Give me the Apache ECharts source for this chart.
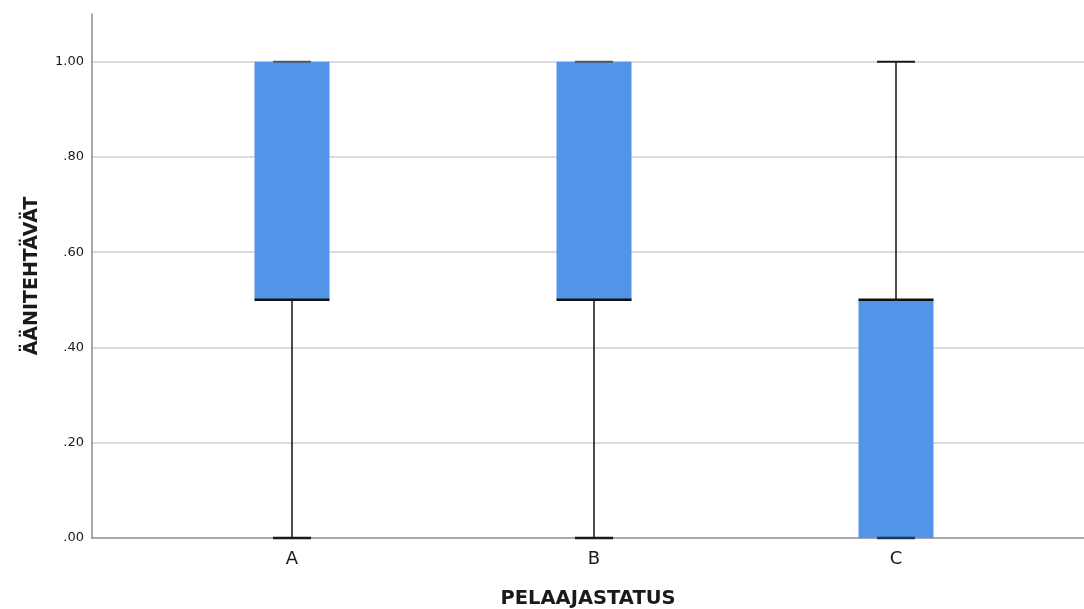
<!DOCTYPE html>
<html>
<head>
<meta charset="utf-8">
<script src="https://cdn.jsdelivr.net/npm/echarts@6/dist/echarts.min.js"></script>
<style>html,body{margin:0;padding:0;background:#fff}#c{width:1084px;height:609px}</style>
</head>
<body>
<div id="c"></div>
<script>
const categories = ['A', 'B', 'C'];
const mins    = [0, 0, 0];
const q1s     = [0.5, 0.5, 0];
const medians = [0.5, 0.5, 0.5];
const q3s     = [1, 1, 0.5];
const maxs    = [1, 1, 1];
const yTicks  = [0.2, 0.4, 0.6, 0.8, 1.0];
const yTitle = 'ÄÄNITEHTÄVÄT';
const xTitle = 'PELAAJASTATUS';

const boxData = categories.map((c, i) => [i, mins[i], q1s[i], medians[i], q3s[i], maxs[i]]);

const chart = echarts.init(document.getElementById('c'), null, {renderer: 'canvas'});
const FONT = 'DejaVu Sans';

chart.setOption({
  animation: false,
  grid: [
    {left: 92, right: 0, top: 14, bottom: 71, containLabel: false, outerBoundsMode: 'none'},
    {left: 141, width: 906, top: 14, bottom: 71, containLabel: false, outerBoundsMode: 'none'}
  ],
  xAxis: [
    {
      gridIndex: 0, type: 'value', min: 0, max: 1,
      axisLine: {show: true, lineStyle: {color: '#8c8c8c', width: 1.5}},
      axisTick: {show: false}, axisLabel: {show: false}, splitLine: {show: false},
      name: xTitle, nameLocation: 'middle', nameGap: 51,
      nameTextStyle: {fontFamily: FONT, fontWeight: 'bold', fontSize: 19.5, color: '#1a1a1a'}
    },
    {
      gridIndex: 1, type: 'category', data: categories, boundaryGap: true,
      axisLine: {show: false}, axisTick: {show: false}, splitLine: {show: false},
      axisLabel: {fontFamily: FONT, fontSize: 18, color: '#1a1a1a', margin: 12}
    }
  ],
  yAxis: [
    {
      gridIndex: 0, type: 'value', min: 0, max: 1.1, interval: 0.2,
      axisLine: {show: true, lineStyle: {color: '#8c8c8c', width: 1.5}},
      axisTick: {show: false}, splitLine: {show: false},
      axisLabel: {
        fontFamily: FONT, fontSize: 13, color: '#1a1a1a', margin: 8, showMaxLabel: false,
        formatter: v => v > 1.05 ? '' : v.toFixed(2).replace(/^0/, '')
      },
      name: yTitle, nameLocation: 'middle', nameGap: 50,
      nameTextStyle: {fontFamily: FONT, fontWeight: 'bold', fontSize: 19, color: '#1a1a1a'}
    },
    {
      gridIndex: 1, type: 'value', min: 0, max: 1.1, show: false
    }
  ],
  series: [
    {
      type: 'line', xAxisIndex: 0, yAxisIndex: 0, data: [], z: 0, silent: true,
      markLine: {
        silent: true, symbol: 'none', label: {show: false}, z: 0,
        lineStyle: {color: '#cfcfcf', width: 1.5, type: 'solid'},
        data: yTicks.map(v => ({yAxis: v}))
      }
    },
    {
      type: 'custom', xAxisIndex: 1, yAxisIndex: 1, z: 3,
      data: boxData,
      renderItem: function (params, api) {
        const x = api.value(0);
        const pMin = api.coord([x, api.value(1)]);
        const pQ1 = api.coord([x, api.value(2)]);
        const pMed = api.coord([x, api.value(3)]);
        const pQ3 = api.coord([x, api.value(4)]);
        const pMax = api.coord([x, api.value(5)]);
        const cx = pMin[0];
        const bw = 75, cw = 38;
        const children = [];
        children.push({type: 'line', shape: {x1: cx, y1: pMin[1], x2: cx, y2: pQ1[1]}, style: {stroke: '#111', lineWidth: 1.5}});
        children.push({type: 'line', shape: {x1: cx, y1: pQ3[1], x2: cx, y2: pMax[1]}, style: {stroke: '#111', lineWidth: 1.5}});
        children.push({type: 'rect', shape: {x: cx - bw / 2, y: pQ3[1], width: bw, height: pQ1[1] - pQ3[1]}, style: {fill: '#5294e8'}});
        const capColor = (api.value(5) === api.value(4)) ? '#4a5a6e' : '#1a1a1a';
        const capMinColor = (api.value(1) === api.value(2)) ? '#1f3550' : '#1a1a1a';
        children.push({type: 'line', shape: {x1: cx - cw / 2, y1: pMin[1], x2: cx + cw / 2, y2: pMin[1]}, style: {stroke: capMinColor, lineWidth: 2.5}});
        children.push({type: 'line', shape: {x1: cx - cw / 2, y1: pMax[1], x2: cx + cw / 2, y2: pMax[1]}, style: {stroke: capColor, lineWidth: 2}});
        children.push({type: 'line', shape: {x1: cx - bw / 2, y1: pMed[1], x2: cx + bw / 2, y2: pMed[1]}, style: {stroke: '#111', lineWidth: 2.5}});
        return {type: 'group', children: children};
      }
    }
  ]
});
</script>
</body>
</html>
